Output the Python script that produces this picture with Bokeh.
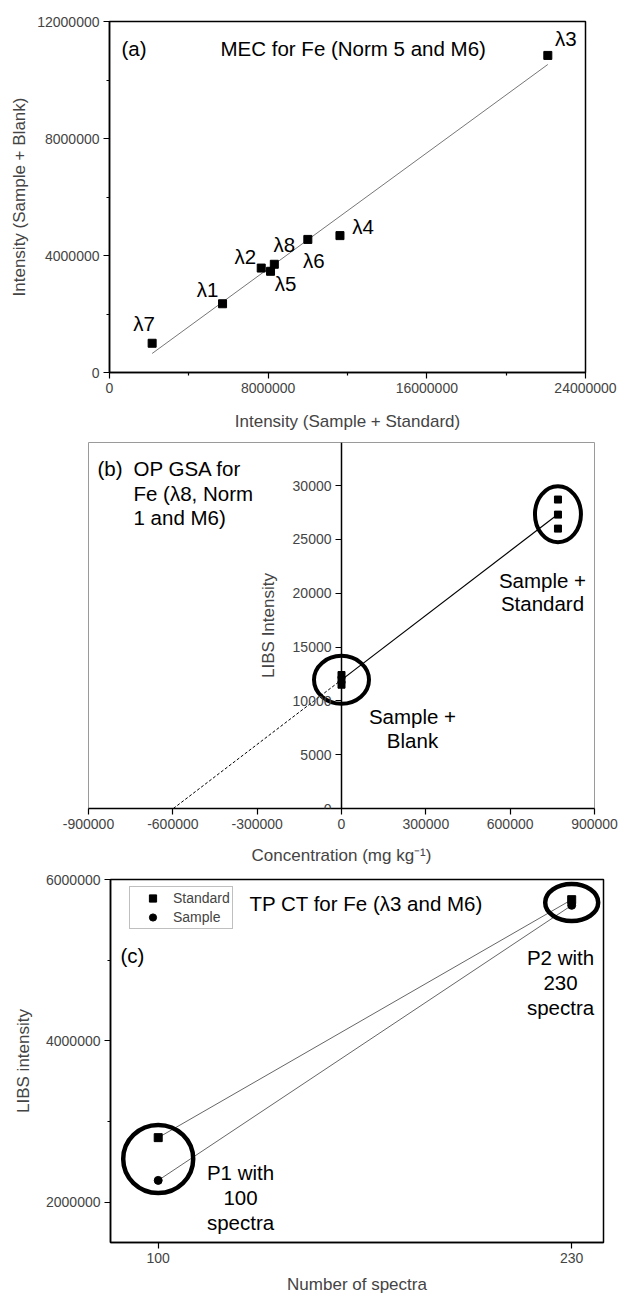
import numpy as np
from bokeh.plotting import figure
from bokeh.models import (Range1d, LinearAxis, FixedTicker, NumeralTickFormatter,
                          Label, Legend, LegendItem)
from bokeh.core.properties import value
from bokeh.embed import file_html
from bokeh.resources import INLINE

FONT = "Liberation Sans"
BIG = "20.5px"

# ---- (a) MEC: intensity of sample+blank vs sample+standard per emission line
mec_lines = ["λ7", "λ1", "λ2", "λ5", "λ8", "λ6", "λ4", "λ3"]
mec_standard = [2.15e6, 5.70e6, 7.65e6, 8.12e6, 8.31e6, 10.0e6, 11.62e6, 22.1e6]
mec_blank = [1.00e6, 2.35e6, 3.57e6, 3.46e6, 3.70e6, 4.55e6, 4.68e6, 10.84e6]

# ---- (b) OP GSA: one-point standard addition
gsa_conc_blank = [0, 0, 0]
gsa_int_blank = [12400, 11950, 11500]
gsa_conc_std = [770000, 770000, 770000]
gsa_int_std = [28700, 27300, 26000]

# ---- (c) TP CT: two-point calibration transfer
tp_spectra = [100, 230]
tp_standard = [2.80e6, 5.75e6]
tp_sample = [2.27e6, 5.68e6]


def style_axis(ax, label_standoff=10):
    ax.major_label_text_font = FONT
    ax.major_label_text_font_size = "14px"
    ax.axis_label_text_font = FONT
    ax.axis_label_text_font_size = "17px"
    ax.axis_label_text_font_style = "normal"
    ax.axis_label_standoff = label_standoff
    ax.axis_line_width = 1.5
    ax.axis_line_color = "black"
    ax.major_tick_line_width = 1.2
    ax.minor_tick_line_width = 1.2
    ax.major_tick_out = 6
    ax.major_tick_in = 0
    ax.minor_tick_out = 3
    ax.minor_tick_in = 0
    ax.major_label_standoff = 4
    ax.formatter = NumeralTickFormatter(format="0")


def add_label(p, x, y, text, align="left", size=BIG):
    p.add_layout(Label(x=x, y=y, x_units="screen", y_units="screen", text=text,
                       text_font=FONT, text_font_size=size, text_align=align,
                       text_baseline="middle", text_color="black"))


# ================= panel (a) =================
pa = figure(width=619, height=436, x_range=Range1d(0, 24e6), y_range=Range1d(0, 12e6),
            output_backend="svg", toolbar_location=None,
            min_border_left=109, min_border_right=34, min_border_top=21, min_border_bottom=64,
            x_axis_label="Intensity (Sample + Standard)",
            y_axis_label="Intensity (Sample + Blank)")
pa.grid.visible = False
pa.outline_line_color = "black"
pa.outline_line_width = 1.5
style_axis(pa.xaxis[0], 16)
style_axis(pa.yaxis[0], 5)
pa.xaxis.ticker = FixedTicker(ticks=[0, 8e6, 16e6, 24e6], minor_ticks=[4e6, 12e6, 20e6])
pa.yaxis.ticker = FixedTicker(ticks=[0, 4e6, 8e6, 12e6], minor_ticks=[2e6, 6e6, 10e6])

slope_a, icpt_a = np.polyfit(mec_standard, mec_blank, 1)
fit_x = np.array([min(mec_standard), max(mec_standard)])
pa.line(fit_x, slope_a * fit_x + icpt_a, line_color="#666666", line_width=0.9)
pa.scatter(mec_standard, mec_blank, marker="square", size=8, color="black")

# label offsets (screen px) for each emission line tag
lam_dx = {"λ7": -8, "λ1": -15, "λ2": -16, "λ5": 15, "λ8": 10, "λ6": 6, "λ4": 23, "λ3": 18}
lam_dy = {"λ7": -20, "λ1": -14, "λ2": -12, "λ5": 12, "λ8": -20, "λ6": 21, "λ4": -9, "λ3": -17}
pa.text(x=mec_standard, y=mec_blank, text=mec_lines,
        x_offset=[lam_dx[k] for k in mec_lines], y_offset=[lam_dy[k] for k in mec_lines],
        text_font=value(FONT), text_font_size=value(BIG),
        text_align="center", text_baseline="middle", text_color="black")
add_label(pa, 12, 324, "(a)")
add_label(pa, 111, 324, "MEC for Fe (Norm 5 and M6)")

# ================= panel (b) =================
pb = figure(width=619, height=436, x_range=Range1d(-900000, 900000), y_range=Range1d(0, 34000),
            output_backend="svg", toolbar_location=None, y_axis_location=None,
            min_border_left=88, min_border_right=25, min_border_top=6, min_border_bottom=64,
            x_axis_label="Concentration (mg kg⁻¹)")
pb.grid.visible = False
pb.outline_line_color = "#9a9a9a"
pb.outline_line_width = 1
style_axis(pb.xaxis[0], 14)
pb.xaxis.ticker = FixedTicker(ticks=list(range(-900000, 900001, 300000)), minor_ticks=[])

yax_b = LinearAxis(fixed_location=0, axis_label="LIBS Intensity")
style_axis(yax_b, 12)
yax_b.ticker = FixedTicker(ticks=list(range(0, 30001, 5000)), minor_ticks=[])
pb.add_layout(yax_b, "left")

all_conc = gsa_conc_blank + gsa_conc_std
all_int = gsa_int_blank + gsa_int_std
slope_b, icpt_b = np.polyfit(all_conc, all_int, 1)
x_icpt = -icpt_b / slope_b
pb.line([x_icpt, 0], [0, icpt_b], line_color="black", line_width=1, line_dash="3 2")
xs_b = np.array([0, max(gsa_conc_std)])
pb.line(xs_b, slope_b * xs_b + icpt_b, line_color="black", line_width=1.2)
pb.scatter(gsa_conc_blank, gsa_int_blank, marker="square", size=7, color="black")
pb.scatter(gsa_conc_std, gsa_int_std, marker="square", size=7, color="black")
pb.ellipse(x=[0], y=[np.mean(gsa_int_blank)], width=55, height=48,
           width_units="screen", height_units="screen",
           fill_color=None, line_color="black", line_width=4)
pb.ellipse(x=[np.mean(gsa_conc_std)], y=[np.mean(gsa_int_std)], width=46, height=56,
           width_units="screen", height_units="screen",
           fill_color=None, line_color="black", line_width=4)

add_label(pb, 9, 340, "(b)")
add_label(pb, 45, 340, "OP GSA for")
add_label(pb, 45, 315, "Fe (λ8, Norm")
add_label(pb, 45, 291, "1 and M6)")
add_label(pb, 454, 228, "Sample +", align="center")
add_label(pb, 454, 205, "Standard", align="center")
add_label(pb, 324, 92, "Sample +", align="center")
add_label(pb, 324, 68, "Blank", align="center")

# ================= panel (c) =================
pc = figure(width=619, height=426, x_range=Range1d(85, 240), y_range=Range1d(1.5e6, 6e6),
            output_backend="svg", toolbar_location=None,
            min_border_left=110, min_border_right=16, min_border_top=7, min_border_bottom=56,
            x_axis_label="Number of spectra", y_axis_label="LIBS intensity")
pc.grid.visible = False
pc.outline_line_color = "black"
pc.outline_line_width = 1.5
style_axis(pc.xaxis[0], 9)
style_axis(pc.yaxis[0], 10)
pc.xaxis.ticker = FixedTicker(ticks=tp_spectra, minor_ticks=[])
pc.yaxis.ticker = FixedTicker(ticks=[2e6, 4e6, 6e6], minor_ticks=[3e6, 5e6])

pc.line(tp_spectra, tp_standard, line_color="#555555", line_width=0.9)
pc.line(tp_spectra, tp_sample, line_color="#555555", line_width=0.9)
std_r = pc.scatter(tp_spectra, tp_standard, marker="square", size=8, color="black")
smp_r = pc.scatter(tp_spectra, tp_sample, marker="circle", size=8, color="black")
pc.ellipse(x=[tp_spectra[0]], y=[(tp_standard[0] + tp_sample[0]) / 2], width=70, height=68,
           width_units="screen", height_units="screen",
           fill_color=None, line_color="black", line_width=4.5)
pc.ellipse(x=[tp_spectra[1]], y=[(tp_standard[1] + tp_sample[1]) / 2], width=53, height=37,
           width_units="screen", height_units="screen",
           fill_color=None, line_color="black", line_width=4.5)

legend = Legend(items=[LegendItem(label="Standard", renderers=[std_r]),
                       LegendItem(label="Sample", renderers=[smp_r])],
                location=(19, 313), padding=2, spacing=1, margin=0,
                glyph_width=41, glyph_height=18, label_height=18, label_standoff=0,
                label_text_font=FONT, label_text_font_size="14px",
                border_line_color="#808080", border_line_width=1,
                background_fill_color="white", background_fill_alpha=1)
pc.add_layout(legend)

add_label(pc, 139, 339, "TP CT for Fe (λ3 and M6)")
add_label(pc, 10, 287, "(c)")
add_label(pc, 450, 285, "P2 with", align="center")
add_label(pc, 450, 260, "230", align="center")
add_label(pc, 450, 235, "spectra", align="center")
add_label(pc, 130, 70, "P1 with", align="center")
add_label(pc, 130, 45, "100", align="center")
add_label(pc, 130, 20, "spectra", align="center")

# each panel is its own root so that the frames keep their individual borders
open("out.html", "w").write(file_html([pa, pb, pc], INLINE))
